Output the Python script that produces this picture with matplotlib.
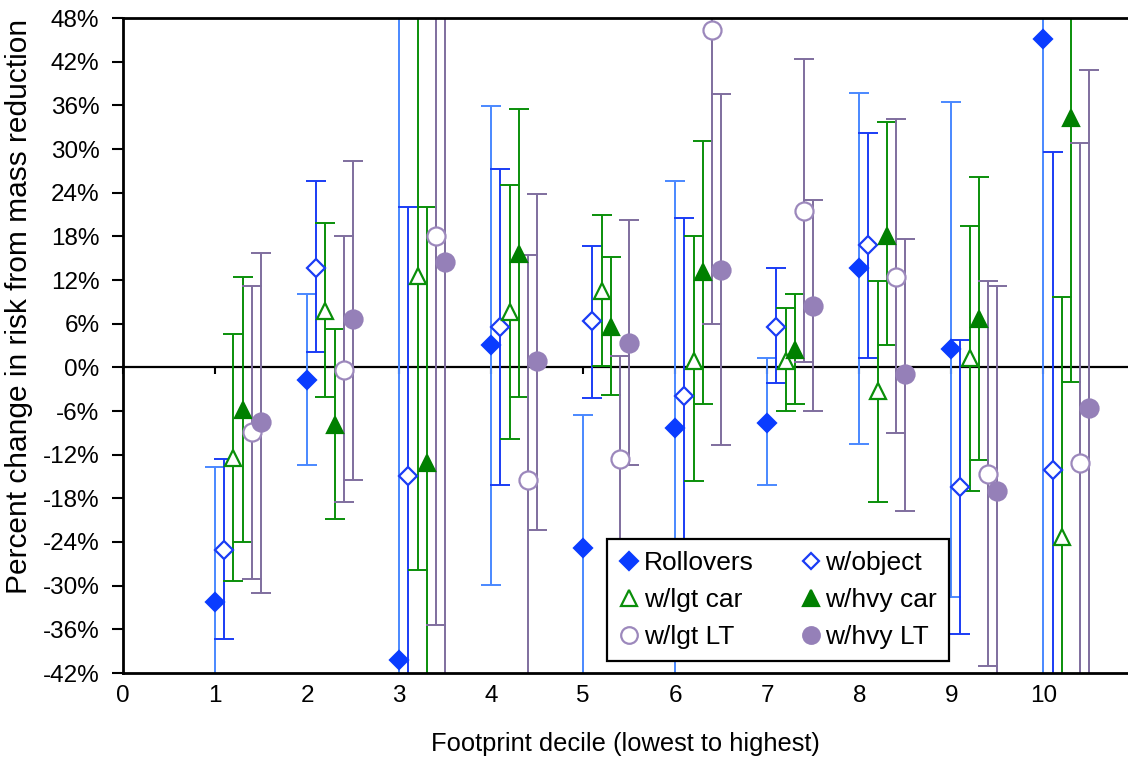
import matplotlib
matplotlib.use("Agg")
import matplotlib.pyplot as plt
from matplotlib.lines import Line2D
import numpy as np

plt.rcParams['font.family'] = ['Liberation Sans', 'DejaVu Sans']

deciles = np.arange(1, 11)
yticks = list(range(-42, 49, 6))
xticks = list(range(0, 11))

# point estimate, lower bound, upper bound (percent); +/-60 = runs off the chart
rollovers_val = [-32.2, -1.8, -40.2, 3.1, -24.8, -8.3, -7.7, 13.7, 2.5, 45.1]
rollovers_lo = [-60, -13.4, -60, -29.9, -60, -60, -16.2, -10.6, -31.6, -60]
rollovers_hi = [-13.7, 10.1, 60, 35.9, -6.6, 25.6, 1.3, 37.7, 36.4, 60]

object_val = [-25.1, 13.7, -14.9, 5.6, 6.3, -4.0, 5.6, 16.8, -16.4, -14.1]
object_lo = [-37.3, 2.1, -60, -16.1, -4.2, -33.0, -2.2, 1.3, -36.7, -60]
object_hi = [-12.6, 25.6, 22.0, 27.3, 16.7, 20.5, 13.7, 32.2, 3.7, 29.6]

lgtcar_val = [-12.4, 7.8, 12.6, 7.6, 10.5, 0.9, 0.9, -3.3, 1.3, -23.3]
lgtcar_lo = [-29.4, -4.1, -27.8, -9.9, 0.2, -15.6, -6.0, -18.5, -17.0, -60]
lgtcar_hi = [4.6, 19.8, 60, 25.1, 21.0, 18.0, 8.1, 11.9, 19.4, 9.7]

hvycar_val = [-5.8, -7.9, -13.2, 15.6, 5.5, 13.1, 2.4, 18.1, 6.7, 34.3]
hvycar_lo = [-24.0, -20.8, -60, -4.1, -3.8, -5.0, -5.0, 3.1, -12.7, -2.0]
hvycar_hi = [12.4, 5.3, 22.0, 35.5, 15.1, 31.1, 10.1, 33.7, 26.1, 60]

lgtlt_val = [-8.9, -0.3, 18.0, -15.5, -12.6, 46.3, 21.5, 12.4, -14.7, -13.1]
lgtlt_lo = [-29.1, -18.5, -35.4, -60, -36.0, 5.9, 0.7, -9.0, -41.1, -60]
lgtlt_hi = [11.2, 18.0, 60, 15.4, 1.5, 60, 42.4, 34.1, 11.9, 30.8]

hvylt_val = [-7.5, 6.7, 14.5, 0.9, 3.4, 13.4, 8.4, -0.9, -17.0, -5.6]
hvylt_lo = [-31.0, -15.5, -60, -22.4, -13.4, -10.7, -6.0, -19.7, -60, -60]
hvylt_hi = [15.7, 28.4, 60, 23.8, 20.2, 37.5, 23.0, 17.7, 11.2, 40.8]

series = [
    # label, val, lo, hi, marker, size, face, edge, bar colour
    ("Rollovers", rollovers_val, rollovers_lo, rollovers_hi, "D", 9.5, "#0a3cff", "#0a3cff", "#4a88ff"),
    ("w/object", object_val, object_lo, object_hi, "D", 9, "white", "#1a3cf5", "#1a3cf5"),
    ("w/lgt car", lgtcar_val, lgtcar_lo, lgtcar_hi, "^", 12, "white", "#0a8f0a", "#0a8f0a"),
    ("w/hvy car", hvycar_val, hvycar_lo, hvycar_hi, "^", 12, "#008000", "#008000", "#0a8f0a"),
    ("w/lgt LT", lgtlt_val, lgtlt_lo, lgtlt_hi, "o", 13, "white", "#9c88bc", "#7f6e9e"),
    ("w/hvy LT", hvylt_val, hvylt_lo, hvylt_hi, "o", 13, "#9580b8", "#9580b8", "#7f6e9e"),
]

fig = plt.figure(figsize=(11.28, 7.61), dpi=100)
ax = fig.add_axes([123 / 1128, 1 - 673 / 761, 1005 / 1128, 655 / 761])

handles = {}
for i, (label, val, lo, hi, mk, ms, fc, ec, bc) in enumerate(series):
    x = deciles + 0.1 * i
    val = np.array(val)
    yerr = [val - np.array(lo), np.array(hi) - val]
    ax.errorbar(x, val, yerr=yerr, fmt="none", ecolor=bc, elinewidth=1.4,
                capsize=7.5, capthick=1.4, zorder=2)
    ax.plot(x, val, ls="none", marker=mk, ms=ms, mfc=fc, mec=ec, mew=1.6, zorder=3)
    handles[label] = Line2D([], [], ls="none", marker=mk, ms=ms * 0.92, mfc=fc, mec=ec, mew=1.6)

ax.set_xlim(0, 10.92)
ax.set_ylim(-42, 48)
ax.set_yticks(yticks)
ax.set_yticklabels([f"{v}%" for v in yticks])
ax.set_xticks(xticks)
ax.tick_params(axis="y", direction="out", length=8, width=1.5, labelsize=17.5, pad=9)
ax.tick_params(axis="x", length=0, labelsize=17.5, pad=9)

for s in ["top", "bottom", "left"]:
    ax.spines[s].set_linewidth(2)
    ax.spines[s].set_color("black")
ax.spines["right"].set_visible(False)

# horizontal axis line at 0% with its little tick marks
zero_axis = ax.secondary_xaxis(42 / 90)
zero_axis.set_xticks(xticks)
zero_axis.xaxis.set_ticks_position("bottom")
zero_axis.tick_params(axis="x", direction="out", length=5, width=1.5,
                      labelbottom=False, labeltop=False)
for s in zero_axis.spines.values():
    s.set_linewidth(1.6)
    s.set_color("black")

ax.set_xlabel("Footprint decile (lowest to highest)", fontsize=18.4, labelpad=18)
ax.set_ylabel("Percent change in risk from mass reduction", fontsize=21.5)
ax.yaxis.set_label_coords(-0.09, 0.559)

order = ["Rollovers", "w/lgt car", "w/lgt LT", "w/object", "w/hvy car", "w/hvy LT"]
leg = ax.legend([handles[k] for k in order], order, ncol=2, loc="lower left",
                bbox_to_anchor=(0.4816, 0.018), fontsize=19, frameon=True,
                fancybox=False, framealpha=1, edgecolor="black",
                handlelength=0.8, handletextpad=0.15, columnspacing=1.75,
                labelspacing=0.5, borderpad=0.45, borderaxespad=0)
leg.get_frame().set_linewidth(1.6)

plt.savefig("out.png", dpi=100)
